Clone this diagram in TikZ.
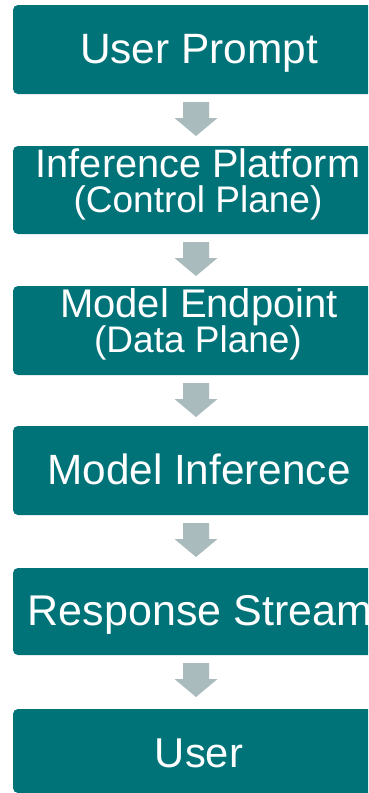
\documentclass[tikz,border=0pt]{standalone}
\usepackage{fontspec}
\setmainfont{Liberation Sans}
\usetikzlibrary{calc}
\definecolor{teal1}{RGB}{0,115,121}
\definecolor{arrgray}{RGB}{170,187,190}
\tikzset{
  box/.style={fill=teal1, rounded corners=5pt, draw=none},
  lbl/.style={text=white, anchor=base, inner sep=0pt},
  blockarrow/.style={fill=arrgray, draw=none},
}
\newcommand{\blkarrow}[1]{%
  \fill[blockarrow, shift={(#1)}] (-16,8) -- (10,8) -- (10,24) -- (18.5,24) -- (-3,42) -- (-24.5,24) -- (-16,24) -- cycle;}
\begin{document}
\begin{tikzpicture}[x=1pt,y=-1pt]
\useasboundingbox (0,0) rectangle (368,793);
\clip (0,0) rectangle (368,793);
\fill[white] (0,0) rectangle (368,793);
% boxes
\path[box] (13,5) rectangle (385,94);
\coordinate (b1) at (199,94);
\path[box] (13,146) rectangle (385,234);
\coordinate (b2) at (199,234);
\path[box] (13,286) rectangle (385,375);
\coordinate (b3) at (199,375);
\path[box] (13,426) rectangle (385,515);
\coordinate (b4) at (199,515);
\path[box] (13,568) rectangle (385,655);
\coordinate (b5) at (199,655);
\path[box] (13,709) rectangle (385,793);
% labels
\node[lbl, font=\fontsize{42.4}{48}\selectfont] (t1) at (199,63) {User Prompt};
\node[lbl, font=\fontsize{39.7}{45}\selectfont] (t2) at (198,177) {Inference Platform};
\node[lbl, font=\fontsize{37}{42}\selectfont] (s2) at (198,212) {(Control Plane)};
\node[lbl, font=\fontsize{40}{45}\selectfont] (t3) at (199,317) {Model Endpoint};
\node[lbl, font=\fontsize{37}{42}\selectfont] (s3) at (198,352) {(Data Plane)};
\node[lbl, font=\fontsize{42.3}{48}\selectfont] (t4) at (199,484) {Model Inference};
\node[lbl, font=\fontsize{43}{48}\selectfont] (t5) at (200,625) {Response Stream};
\node[lbl, font=\fontsize{41.7}{47}\selectfont] (t6) at (199,767) {User};
% arrows
\blkarrow{b1}
\blkarrow{b2}
\blkarrow{b3}
\blkarrow{b4}
\blkarrow{b5}
\end{tikzpicture}
\end{document}
